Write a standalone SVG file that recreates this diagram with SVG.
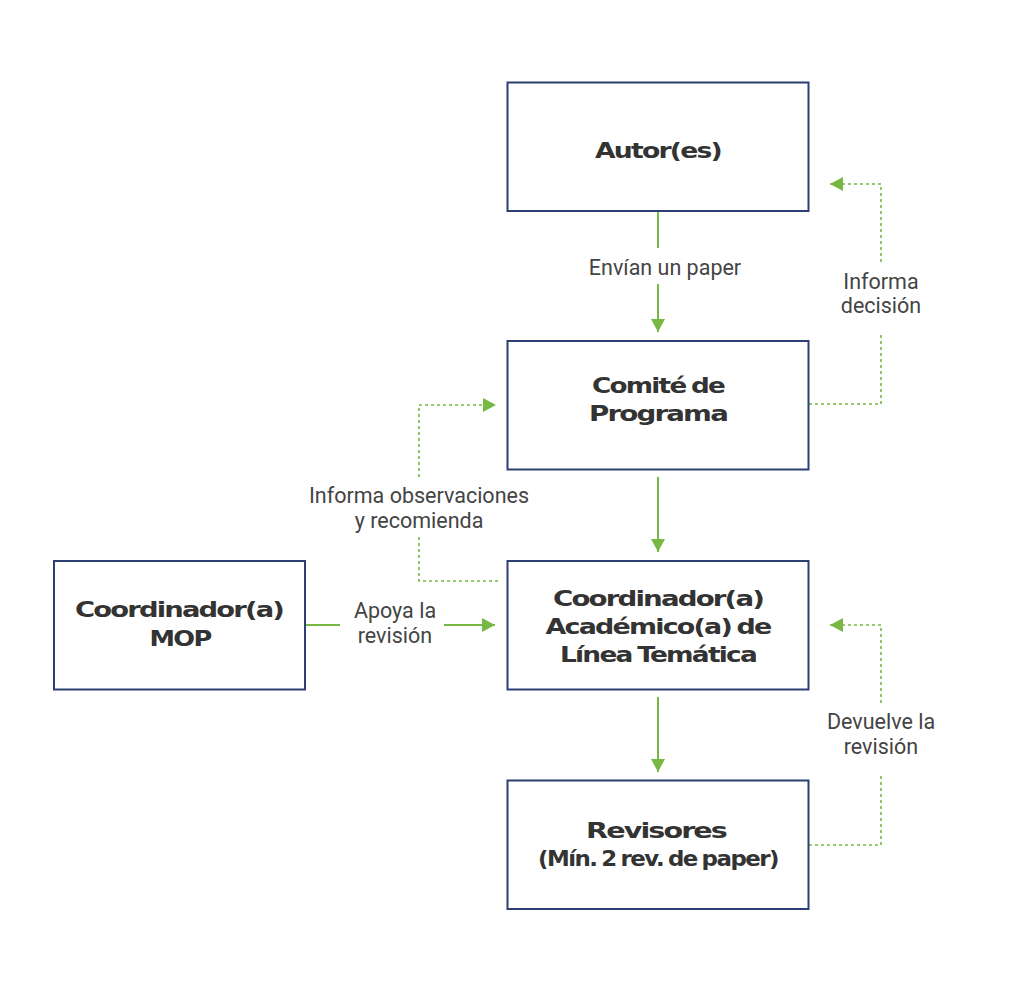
<svg xmlns="http://www.w3.org/2000/svg" width="1024" height="992" viewBox="0 0 1024 992">
<style>
.box{fill:#fff;stroke:#2b3f73;stroke-width:2}
.nt{font-family:"DejaVu Sans",sans-serif;font-weight:bold;font-size:21px;letter-spacing:-1.4px;word-spacing:-1.5px;fill:#333;text-anchor:middle}
.lb{font-family:Roboto,"Liberation Sans",sans-serif;font-size:21.5px;fill:#444;text-anchor:middle}
.solid{stroke:#76b843;stroke-width:2;fill:none}
.dot{stroke:#76b843;stroke-width:1.6;fill:none;stroke-dasharray:3 3}
</style>
<defs>
<marker id="ah" markerWidth="14" markerHeight="14" refX="13" refY="7" orient="auto" markerUnits="userSpaceOnUse">
<path d="M0,0 L13,7 L0,14 Z" fill="#76b843"/>
</marker>
</defs>
<rect width="1024" height="992" fill="#fff"/>
<g id="connectors">
<line class="solid" x1="658" y1="211" x2="658" y2="248"/>
<line class="solid" x1="658" y1="284" x2="658" y2="332" marker-end="url(#ah)"/>
<line class="solid" x1="658" y1="477" x2="658" y2="552" marker-end="url(#ah)"/>
<line class="solid" x1="658" y1="697" x2="658" y2="772" marker-end="url(#ah)"/>
<line class="solid" x1="305" y1="625" x2="340" y2="625"/>
<line class="solid" x1="444" y1="625" x2="495" y2="625" marker-end="url(#ah)"/>
<polyline class="dot" points="809,404 881,404 881,332"/>
<polyline class="dot" points="881,262 881,184 830,184" marker-end="url(#ah)"/>
<polyline class="dot" points="498,581 419,581 419,537"/>
<polyline class="dot" points="419,477 419,405 496,405" marker-end="url(#ah)"/>
<polyline class="dot" points="809,845 881,845 881,773"/>
<polyline class="dot" points="881,703 881,625 830,625" marker-end="url(#ah)"/>
<text class="lb" x="665" y="275">Envían un paper</text>
<text class="lb" x="881" y="289">Informa</text>
<text class="lb" x="881" y="313">decisión</text>
<text class="lb" x="419" y="503">Informa observaciones</text>
<text class="lb" x="419" y="528">y recomienda</text>
<text class="lb" x="395" y="618">Apoya la</text>
<text class="lb" x="395" y="643">revisión</text>
<text class="lb" x="881" y="729">Devuelve la</text>
<text class="lb" x="881" y="754">revisión</text>
</g>
<g id="autores">
<rect class="box" x="507.5" y="82.5" width="301" height="128.5"/>
<text class="nt" x="658" y="158" textLength="126" lengthAdjust="spacingAndGlyphs">Autor(es)</text>
</g>
<g id="comite">
<rect class="box" x="507.5" y="341" width="301" height="128.5"/>
<text class="nt" x="658" y="393" textLength="132" lengthAdjust="spacingAndGlyphs">Comité de</text>
<text class="nt" x="658" y="421" textLength="138" lengthAdjust="spacingAndGlyphs">Programa</text>
</g>
<g id="coord-mop">
<rect class="box" x="54" y="561" width="251" height="128.5"/>
<text class="nt" x="179" y="617" textLength="208" lengthAdjust="spacingAndGlyphs">Coordinador(a)</text>
<text class="nt" x="180" y="646" textLength="61" lengthAdjust="spacingAndGlyphs">MOP</text>
</g>
<g id="coord-academico">
<rect class="box" x="507.5" y="561" width="301" height="128.5"/>
<text class="nt" x="658" y="606" textLength="210" lengthAdjust="spacingAndGlyphs">Coordinador(a)</text>
<text class="nt" x="658" y="634" textLength="225" lengthAdjust="spacingAndGlyphs">Académico(a) de</text>
<text class="nt" x="658" y="662" textLength="196" lengthAdjust="spacingAndGlyphs">Línea Temática</text>
</g>
<g id="revisores">
<rect class="box" x="507.5" y="780.5" width="301" height="128.5"/>
<text class="nt" x="656" y="838" textLength="140" lengthAdjust="spacingAndGlyphs">Revisores</text>
<text class="nt" x="658" y="866" textLength="240" lengthAdjust="spacingAndGlyphs">(Mín. 2 rev. de paper)</text>
</g>
</svg>
